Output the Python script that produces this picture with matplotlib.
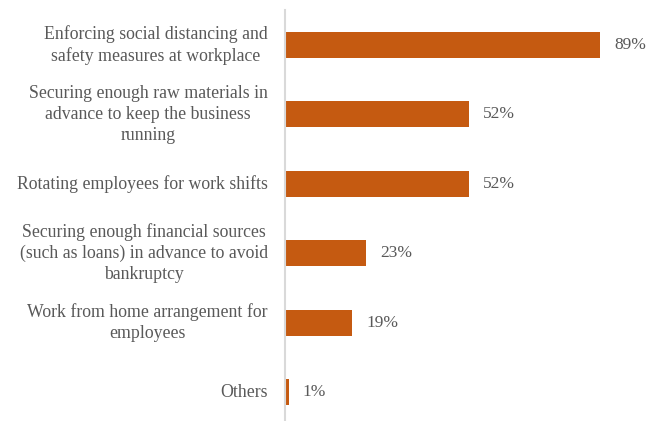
import numpy as np
import matplotlib.pyplot as plt

plt.rcParams['font.family'] = ['Liberation Serif', 'DejaVu Serif']

measures = [
    "Enforcing social distancing and\nsafety measures at workplace",
    "Securing enough raw materials in\nadvance to keep the business\nrunning",
    "Rotating employees for work shifts",
    "Securing enough financial sources\n(such as loans) in advance to avoid\nbankruptcy",
    "Work from home arrangement for\nemployees",
    "Others",
]
shares = [89, 52, 52, 23, 19, 1]

bar_color = '#C55A11'
text_color = '#595959'

W, H = 647, 421
fig = plt.figure(figsize=(W / 100, H / 100), dpi=100)
ax = fig.add_axes([285 / W, -6 / H, (640 - 285) / W, 417 / H])

y = np.arange(len(measures))
ax.barh(y, shares, height=0.38, color=bar_color)
ax.set_ylim(len(measures) - 0.5, -0.5)
ax.set_xlim(0, 100.3)

for yi, v in zip(y, shares):
    ax.annotate(f"{v}%", (v, yi), xytext=(10, 0), textcoords='offset points',
                ha='left', va='center', fontsize=12.5, color=text_color)

for yi, lab in zip(y, measures):
    ax.annotate(lab, (0, yi), xytext=(-12.5, 0), textcoords='offset points',
                ha='right', va='center', multialignment='center',
                fontsize=12.8, color=text_color, linespacing=1.3)

ax.set_xticks([])
ax.set_yticks([])
for side in ['top', 'right', 'bottom']:
    ax.spines[side].set_visible(False)
ax.spines['left'].set_color('#D9D9D9')
ax.spines['left'].set_linewidth(1.5)

fig.savefig('out.png', dpi=100)
